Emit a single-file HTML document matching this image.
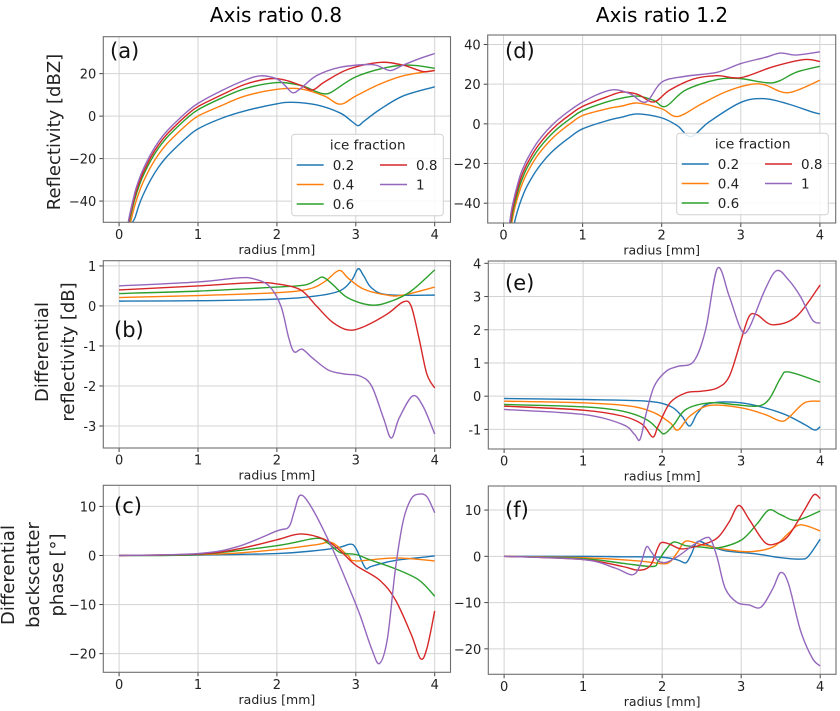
<!DOCTYPE html>
<html><head><meta charset="utf-8"><style>
html,body{margin:0;padding:0;background:#fff;}
svg{display:block;font-family:"DejaVu Sans","Liberation Sans",sans-serif;}
</style></head><body>
<svg id="fig" width="840" height="711" viewBox="0 0 840 711" xmlns="http://www.w3.org/2000/svg">
<text x="276" y="22" font-size="20" text-anchor="middle">Axis ratio 0.8</text>
<text x="662" y="22" font-size="20" text-anchor="middle">Axis ratio 1.2</text>
<text transform="translate(60,132) rotate(-90)" font-size="18" text-anchor="middle" fill="#222">Reflectivity [dBZ]</text>
<text transform="translate(48,352) rotate(-90)" font-size="18" text-anchor="middle" fill="#222"><tspan x="0" y="0">Differential</tspan><tspan x="0" y="26">reflectivity [dB]</tspan></text>
<text transform="translate(14,575) rotate(-90)" font-size="18" text-anchor="middle" fill="#222"><tspan x="0" y="0">Differential</tspan><tspan x="0" y="25">backscatter</tspan><tspan x="0" y="49">phase [°]</tspan></text>
</svg>
<script>
// ---- data (radius [mm], value) ----
const radiusTicks = [0,1,2,3,4];
const seriesLabels = ["0.2","0.4","0.6","0.8","1"];
const seriesColors = ["#1f77b4","#ff7f0e","#2ca02c","#d62728","#9467bd"];

const aBlue = [[0.16,-50.5],[0.2,-48],[0.25,-42.2],[0.3,-37.5],[0.4,-30],[0.5,-24],[0.6,-19.3],[0.7,-15.5],[0.85,-10.3],[1,-6],[1.3,-1],[1.6,2.5],[2,5.8],[2.2,6.5],[2.5,5.3],[2.8,1.5],[2.95,-2.5],[3.03,-4.5],[3.1,-2.5],[3.3,3],[3.6,9.5],[4,13.8]];
const aOrange = [[0.13,-53],[0.16,-47.8],[0.2,-42],[0.25,-36.2],[0.3,-31.5],[0.4,-24],[0.5,-18],[0.6,-13.3],[0.7,-9.5],[0.85,-4.3],[1,0],[1.3,5],[1.6,9.5],[2,12.6],[2.3,12.8],[2.6,9.5],[2.8,5.6],[3.0,9.5],[3.3,15],[3.6,19],[4,21.5]];
const aGreen = [[0.12,-52],[0.15,-46.4],[0.2,-39],[0.25,-33.2],[0.3,-28.5],[0.4,-21],[0.5,-15],[0.6,-10.3],[0.7,-6.5],[0.85,-1.3],[1,3],[1.3,8.5],[1.6,13],[2,15.8],[2.3,14.5],[2.5,11.5],[2.6,10.5],[2.7,11.5],[3,18.5],[3.4,23],[3.7,24],[4,22.5]];
const aRed = [[0.11,-53],[0.14,-46.7],[0.2,-37.5],[0.25,-31.7],[0.3,-27],[0.4,-19.5],[0.5,-13.5],[0.6,-8.8],[0.7,-5],[0.85,0.2],[1,4.5],[1.3,10],[1.6,15],[1.9,17.6],[2.1,17],[2.3,14.5],[2.45,12.3],[2.6,16],[2.9,22],[3.3,25.3],[3.6,24],[3.85,21],[4,21.5]];
const aPurple = [[0.1,-54],[0.13,-47.2],[0.2,-36],[0.25,-30.2],[0.3,-25.5],[0.4,-18],[0.5,-12],[0.6,-7.3],[0.7,-3.5],[0.85,1.7],[1,6],[1.3,12],[1.6,17],[1.8,19],[2.0,17.5],[2.1,14.5],[2.2,11],[2.3,13],[2.5,19],[2.8,23],[3.2,24.3],[3.35,22.5],[3.45,21.5],[3.6,24],[3.8,27],[4,29.5]];

const dBlue = [[0.13,-51.2],[0.16,-46.3],[0.2,-41],[0.25,-35.6],[0.3,-31.2],[0.4,-24.4],[0.5,-19],[0.6,-14.6],[0.7,-11],[0.85,-6.4],[1,-2.5],[1.3,1.5],[1.5,3.4],[1.7,5],[2.0,3],[2.2,-1],[2.37,-6.4],[2.6,1],[3.0,10.8],[3.3,12.7],[3.6,10],[3.9,6],[4,5]];
const dOrange = [[0.1,-50.8],[0.14,-42.8],[0.2,-34.3],[0.25,-28.9],[0.3,-24.6],[0.4,-17.7],[0.5,-12.4],[0.6,-8],[0.7,-4.3],[0.85,0.3],[1,4.2],[1.3,7.5],[1.5,9],[1.7,10.5],[2.0,7.6],[2.2,3.7],[2.5,10],[2.8,16],[3.1,19.7],[3.3,19.7],[3.6,15.7],[4,22]];
const dGreen = [[0.09,-50.8],[0.13,-42],[0.2,-31.7],[0.25,-26.4],[0.3,-22],[0.4,-15.2],[0.5,-9.9],[0.6,-5.5],[0.7,-1.8],[0.85,2.8],[1,6.7],[1.3,11],[1.5,13],[1.7,14],[1.9,11.8],[2.05,8.8],[2.3,17],[2.7,22.3],[3.0,22.8],[3.4,20.7],[3.7,26],[4,29]];
const dRed = [[0.08,-51.5],[0.12,-41.8],[0.2,-29.6],[0.25,-24.3],[0.3,-20],[0.4,-13.1],[0.5,-7.8],[0.6,-3.4],[0.7,0.3],[0.85,4.9],[1,8.8],[1.3,13.5],[1.5,16],[1.7,14.8],[1.9,11],[2.1,17],[2.4,22.6],[2.7,24.3],[3.0,23.3],[3.4,28.7],[3.8,32.4],[4,31.4]];
const dPurple = [[0.075,-50.8],[0.11,-41.6],[0.2,-27.4],[0.25,-22.1],[0.3,-17.8],[0.4,-10.9],[0.5,-5.6],[0.6,-1.2],[0.7,2.5],[0.85,7.1],[1,11],[1.2,15],[1.4,17.2],[1.6,15.2],[1.8,11],[2.0,21],[2.3,24],[2.7,26],[3.0,30.4],[3.3,33.4],[3.5,35.7],[3.7,34.7],[4,36.3]];

const bBlue = [[0,0.12],[1,0.13],[2,0.17],[2.5,0.25],[2.8,0.38],[2.95,0.65],[3.03,0.93],[3.1,0.75],[3.2,0.45],[3.4,0.28],[4,0.27]];
const bOrange = [[0,0.21],[1,0.26],[2,0.33],[2.4,0.42],[2.6,0.6],[2.75,0.85],[2.82,0.87],[2.9,0.7],[3.1,0.42],[3.4,0.27],[3.6,0.27],[4,0.47]];
const bGreen = [[0,0.31],[1,0.37],[2,0.47],[2.35,0.52],[2.5,0.65],[2.58,0.72],[2.7,0.55],[2.9,0.2],[3.2,0.02],[3.45,0.12],[3.7,0.37],[4,0.9]];
const bRed = [[0,0.4],[1,0.5],[1.7,0.58],[2.0,0.55],[2.3,0.4],[2.5,0.0],[2.7,-0.4],[2.9,-0.6],[3.1,-0.52],[3.4,-0.2],[3.6,0.1],[3.7,0.0],[3.8,-0.8],[3.9,-1.7],[4,-2.05]];
const bPurple = [[0,0.5],[1,0.6],[1.5,0.7],[1.7,0.68],[1.9,0.5],[2.05,0],[2.15,-0.8],[2.22,-1.15],[2.32,-1.08],[2.45,-1.3],[2.65,-1.6],[2.85,-1.7],[3.05,-1.75],[3.2,-2.0],[3.35,-2.8],[3.45,-3.3],[3.55,-2.8],[3.72,-2.25],[3.85,-2.5],[4,-3.2]];

const eBlue = [[0,-0.07],[1,-0.1],[1.8,-0.15],[2.1,-0.3],[2.25,-0.6],[2.35,-0.9],[2.45,-0.5],[2.6,-0.22],[3,-0.2],[3.5,-0.5],[3.8,-0.85],[3.93,-1.02],[4,-0.92]];
const eOrange = [[0,-0.15],[1,-0.2],[1.6,-0.3],[1.9,-0.5],[2.1,-0.8],[2.2,-1.02],[2.35,-0.6],[2.6,-0.28],[3,-0.35],[3.3,-0.55],[3.5,-0.75],[3.6,-0.65],[3.8,-0.2],[4,-0.15]];
const eGreen = [[0,-0.25],[1,-0.32],[1.5,-0.45],[1.8,-0.7],[1.95,-1.0],[2.03,-1.13],[2.15,-0.85],[2.3,-0.4],[2.6,-0.2],[2.9,-0.25],[3.2,-0.3],[3.35,-0.1],[3.5,0.55],[3.6,0.73],[4,0.42]];
const eRed = [[0,-0.3],[1,-0.42],[1.5,-0.6],[1.75,-0.85],[1.88,-1.23],[1.95,-0.9],[2.1,-0.2],[2.3,0.1],[2.5,0.15],[2.7,0.25],[2.85,0.6],[3.0,1.7],[3.1,2.4],[3.2,2.45],[3.4,2.15],[3.7,2.4],[4,3.35]];
const ePurple = [[0,-0.4],[1,-0.55],[1.5,-0.85],[1.65,-1.15],[1.72,-1.3],[1.8,-0.5],[1.9,0.3],[2.05,0.75],[2.2,0.9],[2.4,1.05],[2.55,2.0],[2.7,3.85],[2.85,3.0],[3.0,2.0],[3.1,2.05],[3.3,3.2],[3.45,3.78],[3.6,3.5],[3.75,3.0],[3.9,2.3],[4,2.2]];

const cBlue = [[0,0],[1,0.1],[2,0.4],[2.5,1],[2.8,1.7],[2.93,2.3],[3.0,1.5],[3.12,-2.5],[3.2,-2.2],[3.5,-1],[4,-0.1]];
const cOrange = [[0,0],[1,0.2],[1.5,0.5],[2,1.2],[2.5,2.2],[2.7,2.6],[2.9,0],[3.0,-1.1],[3.5,-0.5],[4,-1.1]];
const cGreen = [[0,0],[1,0.2],[2,2],[2.5,3.5],[2.65,2.5],[2.8,0.6],[3.0,0.2],[3.2,-1.0],[3.5,-2.7],[3.8,-5],[4,-8.3]];
const cRed = [[0,0],[1,0.3],[1.5,1.3],[2,3.2],[2.3,4.4],[2.6,3.3],[2.8,1.0],[3,-2],[3.3,-5],[3.5,-9],[3.7,-16],[3.82,-21],[3.9,-19],[4,-11.3]];
const cPurple = [[0,0],[1,0.4],[1.5,1.8],[2,5],[2.15,5.8],[2.22,9],[2.3,12.3],[2.45,9.5],[2.7,1.5],[2.9,-6],[3.05,-12],[3.2,-19],[3.3,-22],[3.4,-17],[3.5,-3],[3.6,7],[3.7,11.5],[3.8,12.5],[3.9,12],[4,8.7]];

const fBlue = [[0,0],[1,0],[1.5,-0.1],[2,-0.2],[2.2,-0.8],[2.3,-1.4],[2.37,0.5],[2.45,3.2],[2.6,2.3],[2.8,1.2],[3.2,0.5],[3.5,-0.3],[3.75,-0.6],[3.85,0],[4,3.7]];
const fOrange = [[0,0],[1,-0.3],[1.7,-1],[2.0,-1.6],[2.1,-1.2],[2.2,1],[2.3,3.3],[2.5,2.5],[2.8,1.5],[3.1,1.0],[3.4,2],[3.6,5],[3.75,6.8],[4,5.5]];
const fGreen = [[0,0],[1,-0.5],[1.5,-1.5],[1.88,-2.2],[1.95,-1],[2.05,1.5],[2.15,3.1],[2.3,2.3],[2.5,2],[2.7,1.8],[3,3.5],[3.2,7],[3.35,10],[3.5,9],[3.7,7.8],[4,9.8]];
const fRed = [[0,0],[1,-0.7],[1.5,-2.2],[1.7,-3],[1.85,-2],[1.95,2],[2.0,3],[2.1,2.6],[2.25,1.6],[2.5,2.5],[2.7,4],[2.85,7.5],[2.97,11],[3.1,8],[3.3,3],[3.45,2.8],[3.6,4.5],[3.8,10],[3.92,13.3],[4,12.5]];
const fPurple = [[0,0],[1,-0.7],[1.4,-2.5],[1.62,-4],[1.72,-2],[1.8,2],[1.86,1],[1.95,-1],[2.05,-1.3],[2.2,0],[2.4,2.5],[2.55,4],[2.62,3.5],[2.7,-0.5],[2.8,-7],[2.95,-10],[3.1,-10.5],[3.25,-11],[3.4,-7],[3.5,-3.5],[3.6,-6],[3.75,-16],[3.9,-22],[4,-23.7]];

const aTicks = [-40,-20,0,20];
const dTicks = [-40,-20,0,20,40];
const bTicks = [-3,-2,-1,0,1];
const eTicks = [-1,0,1,2,3,4];
const cTicks = [-20,-10,0,10];
const fTicks = [-20,-10,0,10];

const NS = "http://www.w3.org/2000/svg";
const svg = document.getElementById('fig');
function mk(tag, attrs, parent){
  const e = document.createElementNS(NS, tag);
  for (const k in attrs) e.setAttribute(k, attrs[k]);
  (parent||svg).appendChild(e);
  return e;
}
function smoothPath(pts){
  let d = "M" + pts[0][0].toFixed(2) + "," + pts[0][1].toFixed(2);
  for (let i=0;i<pts.length-1;i++){
    const p0 = pts[i-1]||pts[i], p1 = pts[i], p2 = pts[i+1], p3 = pts[i+2]||p2;
    const c1 = [p1[0]+(p2[0]-p0[0])/6, p1[1]+(p2[1]-p0[1])/6];
    const c2 = [p2[0]-(p3[0]-p1[0])/6, p2[1]-(p3[1]-p1[1])/6];
    d += " C"+c1[0].toFixed(2)+","+c1[1].toFixed(2)+" "+c2[0].toFixed(2)+","+c2[1].toFixed(2)+" "+p2[0].toFixed(2)+","+p2[1].toFixed(2);
  }
  return d;
}

const panels = [
  {id:"a", L:103.3, R:450.5, T:36.7, B:222.3, ymin:-50, ymax:37.4, ticks:aTicks, series:[aBlue,aOrange,aGreen,aRed,aPurple], minus:"\u2212", lab:[110,58], legend:[291.7,134.3]},
  {id:"d", L:487.7, R:835.7, T:35, B:223, ymin:-50, ymax:44.8, ticks:dTicks, series:[dBlue,dOrange,dGreen,dRed,dPurple], minus:"\u2212", lab:[505,58], legend:[676.7,133.3]},
  {id:"b", L:103.3, R:450.5, T:260.7, B:448, ymin:-3.55, ymax:1.13, ticks:bTicks, series:[bBlue,bOrange,bGreen,bRed,bPurple], minus:"-", lab:[114,337]},
  {id:"e", L:488.3, R:836, T:261, B:449, ymin:-1.59, ymax:4.07, ticks:eTicks, series:[eBlue,eOrange,eGreen,eRed,ePurple], minus:"-", lab:[505,290]},
  {id:"c", L:103.3, R:450.5, T:485.3, B:672.3, ymin:-23.8, ymax:14.3, ticks:cTicks, series:[cBlue,cOrange,cGreen,cRed,cPurple], minus:"\u2212", lab:[114,513]},
  {id:"f", L:488.3, R:836, T:486, B:674.3, ymin:-25.5, ymax:15.2, ticks:fTicks, series:[fBlue,fOrange,fGreen,fRed,fPurple], minus:"\u2212", lab:[505,517]}
];

panels.forEach(p=>{
  const g = mk('g',{});
  
  
  const xs = v => p.L + (v+0.2)/4.4*(p.R-p.L);
  const ys = v => p.B - (v-p.ymin)/(p.ymax-p.ymin)*(p.B-p.T);
  const cp = mk('clipPath',{id:'clip-'+p.id}, g);
  mk('rect',{x:p.L,y:p.T,width:p.R-p.L,height:p.B-p.T}, cp);
  radiusTicks.forEach(t=>{
    const l = mk('line',{x1:xs(t),x2:xs(t),y1:p.T,y2:p.B,stroke:"#d3d3d3","stroke-width":1}, g);
    
    
    const tk = mk('line',{x1:xs(t),x2:xs(t),y1:p.B,y2:p.B+4,stroke:"#444","stroke-width":1}, g);
    
    
    const tx = mk('text',{x:xs(t),y:p.B+16.5,"font-size":13,"text-anchor":"middle",fill:"#222"}, g);
    tx.textContent = String(t);
    
    
  });
  p.ticks.forEach(t=>{
    const l = mk('line',{x1:p.L,x2:p.R,y1:ys(t),y2:ys(t),stroke:"#d3d3d3","stroke-width":1}, g);
    
    
    const tk = mk('line',{x1:p.L-4,x2:p.L,y1:ys(t),y2:ys(t),stroke:"#444","stroke-width":1}, g);
    
    
    const tx = mk('text',{x:p.L-7,y:ys(t)+5,"font-size":13,"text-anchor":"end",fill:"#222"}, g);
    tx.textContent = (t<0 ? p.minus + Math.abs(t) : String(t));
    
    
  });
  const xl = mk('text',{x:(xs(0)+xs(4))/2,y:p.B+31.5,"font-size":12.5,"text-anchor":"middle",fill:"#222"}, g);
  xl.textContent = "radius [mm]";
  
  
  const sg = mk('g',{"clip-path":"url(#clip-"+p.id+")"}, g);
  p.series.forEach((s,i)=>{
    const pts = s.map(d=>[xs(d[0]), ys(d[1])]);
    const path = mk('path',{d:smoothPath(pts),fill:"none",stroke:seriesColors[i],"stroke-width":1.4,"stroke-linejoin":"round"}, sg);
    
    
  });
  const fr = mk('rect',{x:p.L,y:p.T,width:p.R-p.L,height:p.B-p.T,fill:"none",stroke:"#6e6e6e","stroke-width":1.1}, g);
  
  
  const lb = mk('text',{x:p.lab[0],y:p.lab[1],"font-size":21,fill:"#111"}, g);
  lb.textContent = "("+p.id+")";
  
  
  if (p.legend){
    const lx = p.legend[0], ly = p.legend[1];
    const lg = mk('g',{}, g);
    
    
    mk('rect',{x:lx,y:ly,width:151.6,height:81.5,rx:3,fill:"#fff","fill-opacity":0.85,stroke:"#d0d0d0","stroke-width":1}, lg);
    const tt = mk('text',{x:lx+76,y:ly+15,"font-size":13.5,"text-anchor":"middle",fill:"#222"}, lg);
    tt.textContent = "ice fraction";
    
    
    seriesLabels.forEach((lab,i)=>{
      const col = i<3 ? 0 : 1, row = i<3 ? i : i-3;
      const x0 = lx + 5 + col*83.3, yy = ly + 30.7 + row*19.5;
      const e = mk('g',{}, lg);
      
      
      mk('line',{x1:x0,x2:x0+27,y1:yy,y2:yy,stroke:seriesColors[i],"stroke-width":1.4}, e);
      const t = mk('text',{x:x0+36,y:yy+5,"font-size":13.5,fill:"#222"}, e);
      t.textContent = lab;
    });
  }
});
</script>
</body></html>
